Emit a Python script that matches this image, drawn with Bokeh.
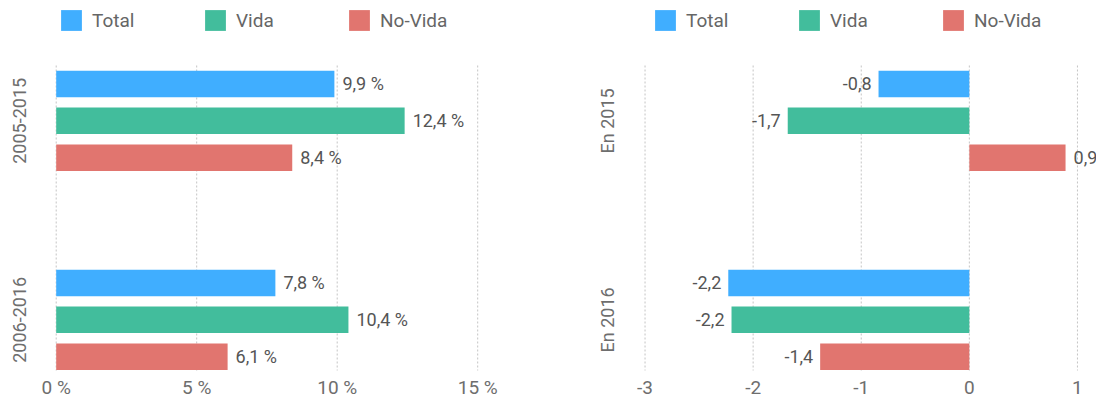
from bokeh.plotting import figure
from bokeh.models import Range1d, FixedTicker, ColumnDataSource, Legend, LegendItem
from bokeh.layouts import row
from bokeh.embed import file_html
from bokeh.resources import INLINE
from bokeh.core.properties import value

# ---------------- data ----------------
series = ["Total", "Vida", "No-Vida"]
colors = ["#40AEFF", "#42BD9C", "#E1756F"]

left_groups = ["2005-2015", "2006-2016"]
left_total = [9.9, 7.8]
left_vida = [12.4, 10.4]
left_novida = [8.4, 6.1]
left_ticks = [0, 5, 10, 15]
left_tick_labels = ["0 %", "5 %", "10 %", "15 %"]

right_groups = ["En 2015", "En 2016"]
right_total = [-0.84, -2.23]
right_vida = [-1.68, -2.20]
right_novida = [0.89, -1.38]
right_ticks = [-3, -2, -1, 0, 1]
right_tick_labels = ["-3", "-2", "-1", "0", "1"]

# ---------------- style ----------------
FONT = "Roboto"
GROUP_STEP = 5.4
BAR_H = 0.72
H = 401
PX = 36.85                 # pixels per y unit
DATA_TOP = -0.502          # top of the bar area (y units, reversed axis)
DATA_BOTTOM = 7.775        # bottom of the bar area
FRAME_TOP = DATA_TOP - 65 / PX          # room above for the legend
FRAME_BOTTOM = DATA_BOTTOM + 31 / PX    # room below for tick labels
TICK_LABEL_Y = DATA_BOTTOM + 17 / PX


def fmt(v, suffix):
    return f"{v:.1f}".replace(".", ",") + suffix


def make_chart(groups, vals_by_series, ticks, tick_labels, x_start, x_end,
               width, border_left, y_standoff, legend_x, suffix):
    p = figure(width=width, height=H,
               x_range=Range1d(x_start, x_end),
               y_range=Range1d(FRAME_BOTTOM, FRAME_TOP),
               output_backend="svg", toolbar_location=None,
               min_border_left=border_left, min_border_right=0,
               min_border_top=0, min_border_bottom=0)
    p.outline_line_color = None
    p.background_fill_color = "white"
    p.xgrid.visible = False
    p.ygrid.visible = False
    p.xaxis.visible = False

    # dotted vertical grid lines limited to the bar area
    p.segment(x0=ticks, x1=ticks, y0=[DATA_TOP] * len(ticks), y1=[DATA_BOTTOM] * len(ticks),
              line_color="#c4c4c4", line_dash="2 2", line_width=1)

    # x tick labels
    p.text(x=ticks, y=[TICK_LABEL_Y] * len(ticks), text=tick_labels,
           text_align="center", text_baseline="middle",
           text_font=value(FONT), text_font_size="19px", text_color="#6e6e6e")

    items = []
    for s_idx, (name, vals, color) in enumerate(zip(series, vals_by_series, colors)):
        ys = [g * GROUP_STEP + s_idx for g in range(len(groups))]
        src = ColumnDataSource(dict(
            y=ys, right=vals,
            label=[fmt(v, suffix) for v in vals],
            align=["left" if v >= 0 else "right" for v in vals],
            off=[8 if v >= 0 else -7 for v in vals],
        ))
        r = p.hbar(y="y", left=0, right="right", height=BAR_H, source=src,
                   fill_color=color, line_color=None)
        items.append(LegendItem(label=name, renderers=[r]))
        p.text(x="right", y="y", text="label", source=src,
               x_offset="off", text_align="align", text_baseline="middle",
               text_font=value(FONT), text_font_size="18px", text_color="#555555")

    # y axis (group labels)
    centers = [g * GROUP_STEP + 1 for g in range(len(groups))]
    p.yaxis.ticker = FixedTicker(ticks=centers)
    p.yaxis.major_label_overrides = {c: g for c, g in zip(centers, groups)}
    p.yaxis.major_label_orientation = "vertical"
    p.yaxis.axis_line_color = None
    p.yaxis.major_tick_line_color = None
    p.yaxis.minor_tick_line_color = None
    p.yaxis.major_tick_out = 0
    p.yaxis.major_tick_in = 0
    p.yaxis.major_label_standoff = y_standoff
    p.yaxis.major_label_text_font = FONT
    p.yaxis.major_label_text_font_size = "18px"
    p.yaxis.major_label_text_color = "#6e6e6e"

    # legend at the top of the frame
    lg = Legend(items=items, orientation="horizontal",
                location=(legend_x, 368), padding=0, margin=0,
                spacing=60, label_standoff=8, label_width=50,
                glyph_width=26, glyph_height=26,
                label_text_font=FONT, label_text_font_size="19px",
                label_text_color="#666666", border_line_color=None,
                background_fill_alpha=0)
    p.add_layout(lg)
    return p


LEFT_FRAME = 30
left_start = (LEFT_FRAME - 55.7) / 28.1
p1 = make_chart(left_groups, [left_total, left_vida, left_novida],
                left_ticks, left_tick_labels,
                left_start, left_start + (556 - LEFT_FRAME) / 28.1,
                556, LEFT_FRAME, 4, 4 + (54 - LEFT_FRAME), " %")
p2 = make_chart(right_groups, [right_total, right_vida, right_novida],
                right_ticks, right_tick_labels,
                -3.079, -3.079 + 460 / 108.1, 540, 80, 18, 16, "")

layout = row(p1, p2)
open("out.html", "w").write(file_html(layout, INLINE))
